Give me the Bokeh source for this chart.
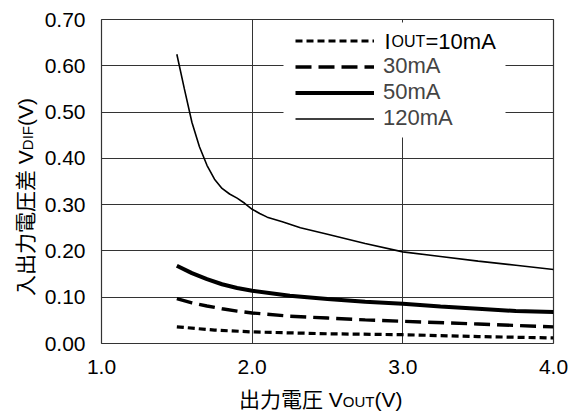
from bokeh.plotting import figure
from bokeh.models import (Range1d, FixedTicker, NumeralTickFormatter, Legend, LegendItem,
                          Label, BoxAnnotation, Div)
from bokeh.layouts import row, column
from bokeh.core.properties import value
from bokeh.embed import file_html
from bokeh.resources import INLINE

# ---- data ----
x_ticks = [1.0, 2.0, 3.0, 4.0]
y_ticks = [0.0, 0.1, 0.2, 0.3, 0.4, 0.5, 0.6, 0.7]

vout_10 = [1.5, 1.75, 2.0, 2.5, 3.0, 3.5, 4.0]
vdif_10 = [0.036, 0.029, 0.025, 0.021, 0.019, 0.015, 0.012]

vout_30 = [1.5, 1.6, 1.7, 1.8, 1.9, 2.0, 2.25, 2.5, 2.75, 3.0, 3.5, 4.0]
vdif_30 = [0.097, 0.088, 0.081, 0.075, 0.070, 0.066, 0.059, 0.055, 0.051, 0.048, 0.042, 0.036]

vout_50 = [1.5, 1.6, 1.7, 1.8, 1.9, 2.0, 2.25, 2.5, 2.75, 3.0, 3.25, 3.5, 3.75, 4.0]
vdif_50 = [0.168, 0.152, 0.139, 0.128, 0.120, 0.114, 0.103, 0.096, 0.090, 0.086, 0.080, 0.075, 0.070, 0.068]

vout_120 = [1.5, 1.55, 1.6, 1.65, 1.7, 1.75, 1.8, 1.85, 1.9, 1.95, 2.0, 2.05, 2.1, 2.2,
            2.32, 2.5, 2.75, 3.0, 3.25, 3.5, 3.75, 4.0]
vdif_120 = [0.625, 0.55, 0.478, 0.425, 0.385, 0.355, 0.335, 0.323, 0.314, 0.303, 0.29, 0.281,
            0.273, 0.263, 0.25, 0.236, 0.216, 0.198, 0.188, 0.178, 0.169, 0.160]

legend_labels = ["30mA", "50mA", "120mA"]

LATIN = "Liberation Sans"
CSS_FONT = "font-family:'Liberation Sans','Noto Sans CJK JP',sans-serif;"

p = figure(width=541, height=380, output_backend="svg", toolbar_location=None,
           x_range=Range1d(1.0, 4.0), y_range=Range1d(0.0, 0.7),
           min_border_left=61, min_border_right=28, min_border_top=19, min_border_bottom=37,
           margin=0)
p.background_fill_color = "white"
p.border_fill_color = "white"
p.outline_line_color = "#333333"
p.outline_line_width = 1.2

# white patch hiding the grid behind the legend
p.add_layout(BoxAnnotation(left=182, right=404, top=321, bottom=206,
                           left_units="screen", right_units="screen",
                           top_units="screen", bottom_units="screen",
                           fill_color="white", fill_alpha=1, line_color=None,
                           level="underlay"))

r10 = p.line(vout_10, vdif_10, line_color="black", line_width=3.2, line_dash="7 4")
r30 = p.line(vout_30, vdif_30, line_color="black", line_width=3.4, line_dash="16 7")
r50 = p.line(vout_50, vdif_50, line_color="black", line_width=4)
r120 = p.line(vout_120, vdif_120, line_color="black", line_width=1.6)

p.xaxis.ticker = FixedTicker(ticks=x_ticks)
p.yaxis.ticker = FixedTicker(ticks=y_ticks)
p.xaxis.formatter = NumeralTickFormatter(format="0.0")
p.yaxis.formatter = NumeralTickFormatter(format="0.00")
for ax in (p.xaxis, p.yaxis):
    ax.axis_line_color = None
    ax.major_tick_line_color = None
    ax.minor_tick_line_color = None
    ax.major_label_text_font = LATIN
    ax.major_label_text_font_size = "21px"
    ax.major_label_text_color = "black"
p.xaxis.major_label_standoff = 10
p.yaxis.major_label_standoff = 10

p.grid.grid_line_color = "#333333"
p.grid.grid_line_width = 1
p.grid.grid_line_alpha = 1

legend = Legend(items=[LegendItem(label=value(" "), renderers=[r10]),
                       LegendItem(label=value(legend_labels[0]), renderers=[r30]),
                       LegendItem(label=value(legend_labels[1]), renderers=[r50]),
                       LegendItem(label=value(legend_labels[2]), renderers=[r120])],
                location=(194, 212), padding=8, spacing=0, margin=0,
                glyph_width=79, glyph_height=25, label_height=25, label_standoff=9,
                label_text_font=LATIN, label_text_font_size="22px",
                border_line_color=None, background_fill_alpha=0)
p.add_layout(legend)

def lab(text, x, y, size):
    p.add_layout(Label(text=text, x=x, y=y, x_units="screen", y_units="screen",
                       text_font=LATIN, text_font_size=size, text_color="black",
                       text_align="left", text_baseline="alphabetic"))

# first legend row label with small-caps "OUT"
lab("I", 283, 302, "22px")
lab("OUT", 290, 302, "16px")
lab("=10mA", 324, 302, "22px")

# axis titles (mixed font sizes) as HTML text
ytitle = Div(text=("<div style='position:relative;width:40px;height:414px;'>"
                   "<span style=\"position:absolute;left:25px;top:197px;"
                   "transform:translate(-50%,-50%) rotate(-90deg);white-space:nowrap;"
                   + CSS_FONT + "font-size:21px;line-height:1;color:black;\">"
                   "入出力電圧差 V<span style='font-size:15px'>DIF</span>(V)</span></div>"),
             width=40, height=414, margin=0)
xtitle = Div(text=("<div style='position:relative;width:541px;height:34px;'>"
                   "<span style=\"position:absolute;left:199px;top:19px;"
                   "transform:translateY(-50%);white-space:nowrap;"
                   + CSS_FONT + "font-size:21px;line-height:1;color:black;\">"
                   "出力電圧 V<span style='font-size:15px'>OUT</span>(V)</span></div>"),
             width=541, height=34, margin=0)

layout = row(ytitle, column(p, xtitle, spacing=0, margin=0), spacing=0, margin=0)

open("out.html", "w").write(file_html(layout, INLINE))
